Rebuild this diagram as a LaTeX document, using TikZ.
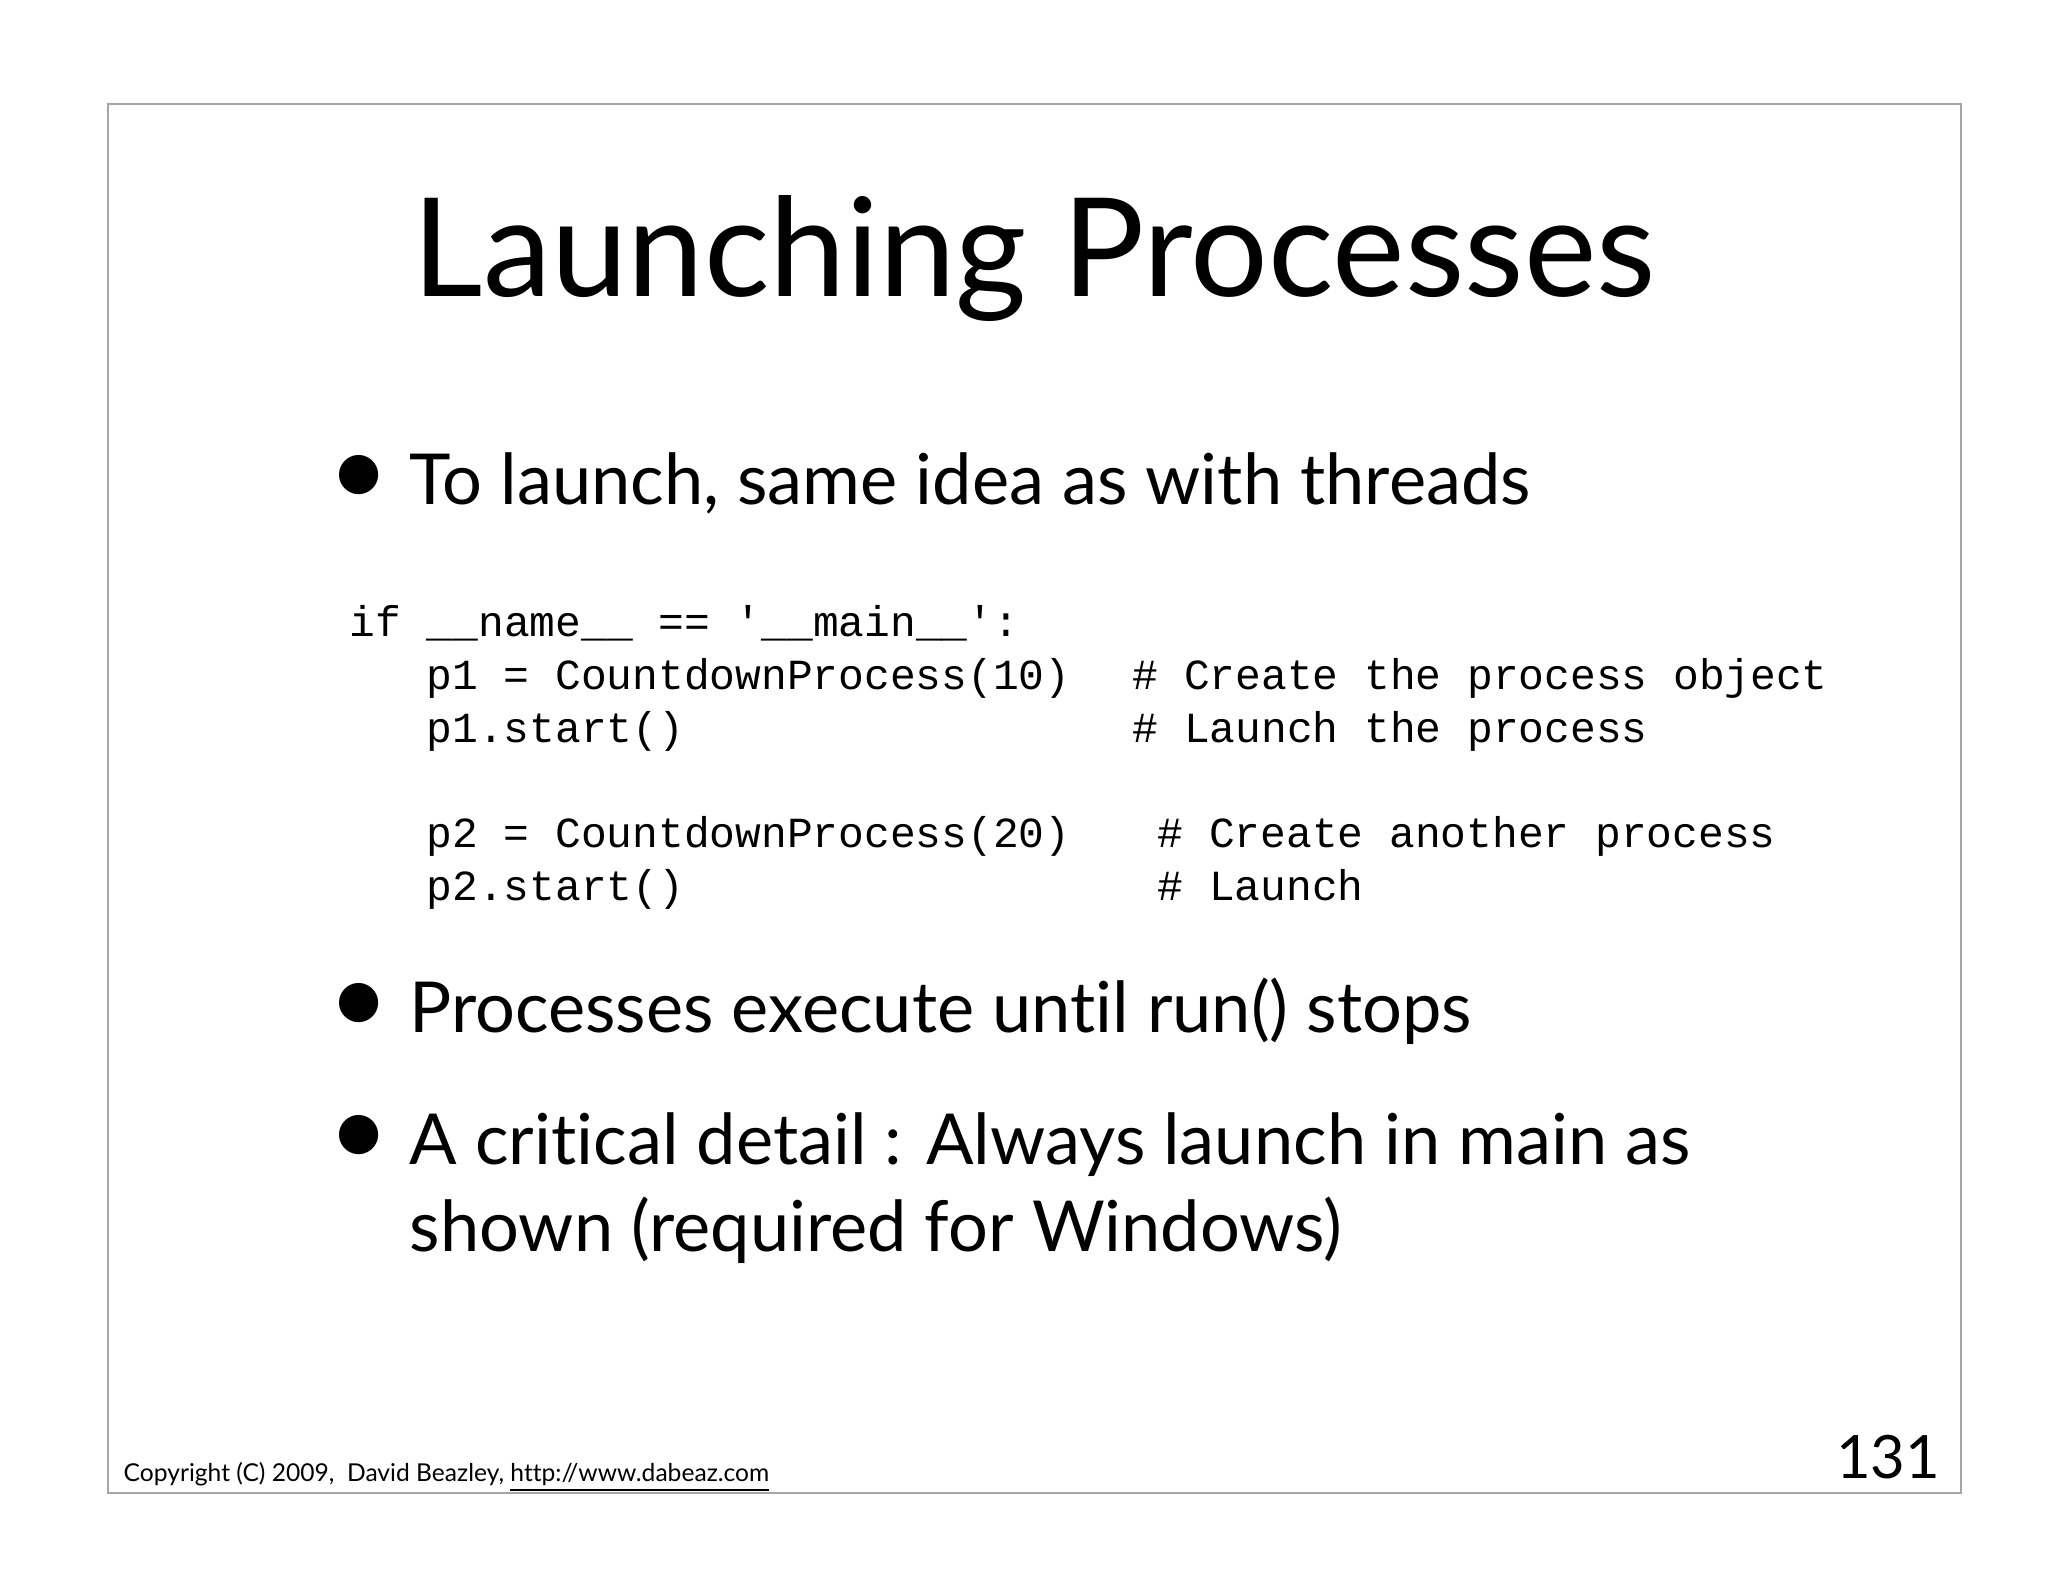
\documentclass[tikz,border=0pt]{standalone}
\usepackage{fontspec}
\setmainfont[Ligatures={NoCommon,NoRare}]{Lato}
\setmonofont{Liberation Mono}
\begin{document}
\begin{tikzpicture}[x=0.01cm,y=-0.01cm,
  txt/.style={anchor=base west,inner sep=0pt},
  code/.style={anchor=base west,inner sep=0pt,font=\fontsize{12.2}{14}\selectfont\ttfamily},
  bul/.style={anchor=base west,inner sep=0pt,font=\fontsize{20}{24}\selectfont},
  dot/.style={anchor=base west,inner sep=0pt,font=\fontsize{30}{34}\selectfont}]
\useasboundingbox (0,0) rectangle (2048,1582);
\fill[white] (0,0) rectangle (2048,1582);
\draw[gray!70,line width=0.6pt] (108,104) rectangle (1961,1493);
\node[anchor=base,inner sep=0pt,font=\fontsize{39}{46}\selectfont] (title) at (1034,297) {Launching Processes};
\node[dot] (b1d) at (328,506) {•};
\node[bul] (b1) at (409,504) {To launch, same idea as with threads};
\node[code] (c0) at (349,636) {if \_\_name\_\_ == '\_\_main\_\_':};
\node[code] (c1) at (426,689) {p1 = CountdownProcess(10)};
\node[code] (c1c) at (1132,689) {\# Create the process object};
\node[code] (c2) at (426,742) {p1.start()};
\node[code] (c2c) at (1132,742) {\# Launch the process};
\node[code] (c3) at (426,847) {p2 = CountdownProcess(20)};
\node[code] (c3c) at (1157,847) {\# Create another process};
\node[code] (c4) at (426,900) {p2.start()};
\node[code] (c4c) at (1157,900) {\# Launch};
\node[dot] (b2d) at (328,1034) {•};
\node[bul] (b2) at (409,1032) {Processes execute until run() stops};
\node[dot] (b3d) at (328,1166) {•};
\node[bul] (b3) at (409,1164) {A critical detail : Always launch in main as};
\node[bul] (b3b) at (409,1251) {shown (required for Windows)};
\node[txt,font=\fontsize{7}{8}\selectfont] (copy) at (123,1481) {Copyright (C) 2009,\ \ David Beazley, \underline{http://www.dabeaz.com}};
\node[anchor=base east,inner sep=0pt,font=\fontsize{17}{20}\selectfont] (num) at (1941,1478) {131};
\end{tikzpicture}
\end{document}
